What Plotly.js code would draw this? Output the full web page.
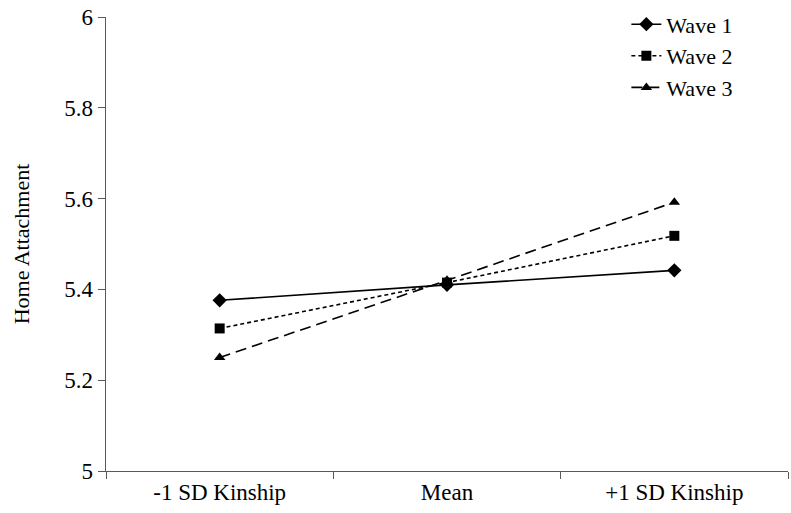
<!DOCTYPE html>
<html>
<head>
<meta charset="utf-8">
<script src="https://cdn.plot.ly/plotly-3.0.1.min.js"></script>
<style>
html,body{margin:0;padding:0;background:#fff;}
#chart{width:791px;height:513px;}
</style>
</head>
<body>
<div id="chart"></div>
<script>
const categories = ["-1 SD Kinship", "Mean", "+1 SD Kinship"];
const wave1 = [5.376, 5.410, 5.442];
const wave2 = [5.314, 5.415, 5.518];
const wave3 = [5.250, 5.420, 5.592];
const yTicks = [5, 5.2, 5.4, 5.6, 5.8, 6];
const yTickLabels = ["5", "5.2", "5.4", "5.6", "5.8", "6"];

const SERIF = "Liberation Serif";

function buildTraces() {
  return [
    {x: categories, y: wave1, name: "Wave 1", mode: "lines+markers", type: "scatter",
     line: {color: "#000", width: 1.6, dash: "solid"},
     marker: {symbol: "diamond", size: 11, color: "#000"}},
    {x: categories, y: wave2, name: "Wave 2", mode: "lines+markers", type: "scatter",
     line: {color: "#000", width: 1.6, dash: "4px,3px"},
     marker: {symbol: "square", size: 10, color: "#000"}},
    {x: categories, y: wave3, name: "Wave 3", mode: "lines+markers", type: "scatter",
     line: {color: "#000", width: 1.6, dash: "11px,6px"},
     marker: {symbol: "triangle-up", size: 10, color: "#000"}}
  ];
}

function buildLayout() {
  return {
    width: 791, height: 513,
    margin: {l: 106, r: 3, t: 12, b: 42},
    paper_bgcolor: "#fff", plot_bgcolor: "#fff",
    font: {family: SERIF, size: 22, color: "#000"},
    showlegend: true,
    legend: {x: 0.763, y: 1.03, xanchor: "left", yanchor: "top", bgcolor: "rgba(0,0,0,0)",
             font: {family: SERIF, size: 22, color: "#000"}, tracegroupgap: 0, itemwidth: 30},
    xaxis: {
      type: "category", range: [-0.5, 2.5], tickson: "boundaries",
      showline: true, linecolor: "#595959", linewidth: 1.3,
      ticks: "outside", ticklen: 7, tickcolor: "#595959", tickwidth: 1,
      showgrid: false, zeroline: false,
      tickfont: {family: SERIF, size: 23, color: "#000"}
    },
    yaxis: {
      range: [5, 6], tickvals: yTicks, ticktext: yTickLabels,
      showline: true, linecolor: "#595959", linewidth: 1.3,
      ticks: "outside", ticklen: 7, tickcolor: "#595959", tickwidth: 1,
      showgrid: false, zeroline: false, ticklabeloverflow: "allow",
      tickfont: {family: SERIF, size: 23, color: "#000"},
      title: {text: "Home Attachment", font: {family: SERIF, size: 22, color: "#000"}, standoff: 28}
    }
  };
}

const config = {displayModeBar: false, staticPlot: true};

function draw() {
  Plotly.purge("chart");
  return Plotly.newPlot("chart", buildTraces(), buildLayout(), config);
}

draw();

// Redraw once the serif face is ready, so tick labels and legend pick it up.
const fontReady = (document.fonts && document.fonts.load)
  ? document.fonts.load('22px "Liberation Serif"').catch(() => null)
  : Promise.resolve();
fontReady.then(() => setTimeout(draw, 30));
</script>
</body>
</html>
